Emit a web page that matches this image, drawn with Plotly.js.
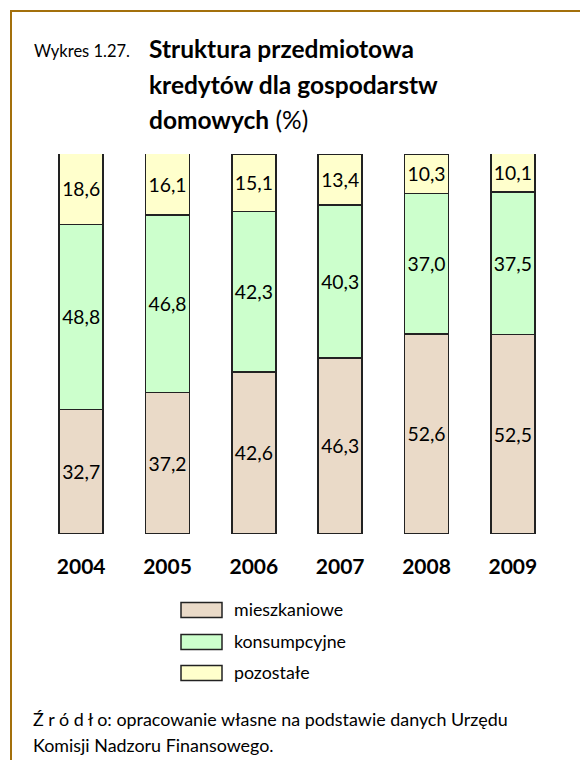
<!DOCTYPE html>
<html>
<head>
<meta charset="utf-8">
<script src="https://cdn.plot.ly/plotly-3.0.1.min.js"></script>
<style>
html,body{margin:0;padding:0;background:#fff;}
#chart{width:580px;height:760px;}
</style>
</head>
<body>
<div id="chart"></div>
<script>
const years = ['2004', '2005', '2006', '2007', '2008', '2009'];
const mieszkaniowe = [32.7, 37.2, 42.6, 46.3, 52.6, 52.5];
const konsumpcyjne = [48.8, 46.8, 42.3, 40.3, 37.0, 37.5];
const pozostale = [18.6, 16.1, 15.1, 13.4, 10.3, 10.1];
const seriesNames = ['mieszkaniowe', 'konsumpcyjne', 'pozostałe'];
const seriesColors = ['#EADAC8', '#CCFFCC', '#FFFFCC'];
const titlePrefix = 'Wykres 1.27.';
const titleLines = ['<b>Struktura przedmiotowa</b>', '<b>kredytów dla gospodarstw</b>', '<b>domowych</b> (%)'];
const sourceLines = ['Ź r ó d ł o: opracowanie własne na podstawie danych Urzędu', 'Komisji Nadzoru Finansowego.'];

const W = 580, H = 760;
const M = {l: 38, r: 24, t: 154, b: 226};
const pw = W - M.l - M.r, ph = H - M.t - M.b;
const px = x => (x - M.l) / pw;
const py = y => (H - M.b - y) / ph;
const FONT = 'Lato, "Open Sans", sans-serif';
const fmt = v => v.toFixed(1).replace('.', ',');

const seriesValues = [mieszkaniowe, konsumpcyjne, pozostale];
const traces = seriesValues.map((vals, i) => ({
  type: 'bar',
  name: seriesNames[i],
  x: years,
  y: vals,
  text: vals.map(fmt),
  textposition: 'inside',
  insidetextanchor: 'middle',
  textangle: 0,
  textfont: {family: FONT, size: 19.5, color: '#000'},
  marker: {color: seriesColors[i], line: {color: '#222', width: 1.5}},
  hoverinfo: 'skip',
  showlegend: false
}));

const annotations = [];
annotations.push({xref: 'paper', yref: 'paper', x: px(32), y: py(51), xanchor: 'left', yanchor: 'middle',
  text: titlePrefix, showarrow: false, font: {family: FONT, size: 16.5, color: '#000'}});
const titleY = [49, 84, 119];
titleLines.forEach((t, i) => annotations.push({xref: 'paper', yref: 'paper', x: px(147), y: py(titleY[i]),
  xanchor: 'left', yanchor: 'middle', text: t, showarrow: false, font: {family: FONT, size: 24.5, color: '#000'}}));

const legendY = [610, 642, 673];
const shapes = [];
seriesNames.forEach((n, i) => {
  shapes.push({type: 'rect', xref: 'paper', yref: 'paper', x0: px(181), x1: px(222),
    y0: py(legendY[i] - 7.5), y1: py(legendY[i] + 7.5), fillcolor: seriesColors[i], line: {color: '#222', width: 1.5}});
  annotations.push({xref: 'paper', yref: 'paper', x: px(232), y: py(legendY[i] - 1), xanchor: 'left', yanchor: 'middle',
    text: n, showarrow: false, font: {family: FONT, size: 17.8, color: '#000'}});
});
const srcY = [719, 745];
sourceLines.forEach((t, i) => annotations.push({xref: 'paper', yref: 'paper', x: px(31), y: py(srcY[i]),
  xanchor: 'left', yanchor: 'middle', text: t, showarrow: false, font: {family: FONT, size: 17.9, color: '#000'}}));

// frame lines (top and left)
shapes.push({type: 'line', xref: 'paper', yref: 'paper', x0: px(10), x1: px(580), y0: py(11), y1: py(11), line: {color: '#A3700C', width: 2}});
shapes.push({type: 'line', xref: 'paper', yref: 'paper', x0: px(11), x1: px(11), y0: py(10), y1: py(760), line: {color: '#A3700C', width: 2}});

const layout = {
  width: W, height: H,
  margin: M,
  paper_bgcolor: '#fff', plot_bgcolor: '#fff',
  barmode: 'stack',
  bargap: 0.49,
  showlegend: false,
  font: {family: FONT, color: '#000'},
  xaxis: {type: 'category', showgrid: false, zeroline: false, showline: false, ticks: '',
    ticklabelstandoff: 18, tickfont: {family: FONT, size: 21, weight: 'bold', color: '#000'}, fixedrange: true},
  yaxis: {range: [0, 100], visible: false, fixedrange: true},
  annotations: annotations,
  shapes: shapes
};
Plotly.newPlot('chart', traces, layout, {displayModeBar: false, staticPlot: true});
</script>
</body>
</html>
